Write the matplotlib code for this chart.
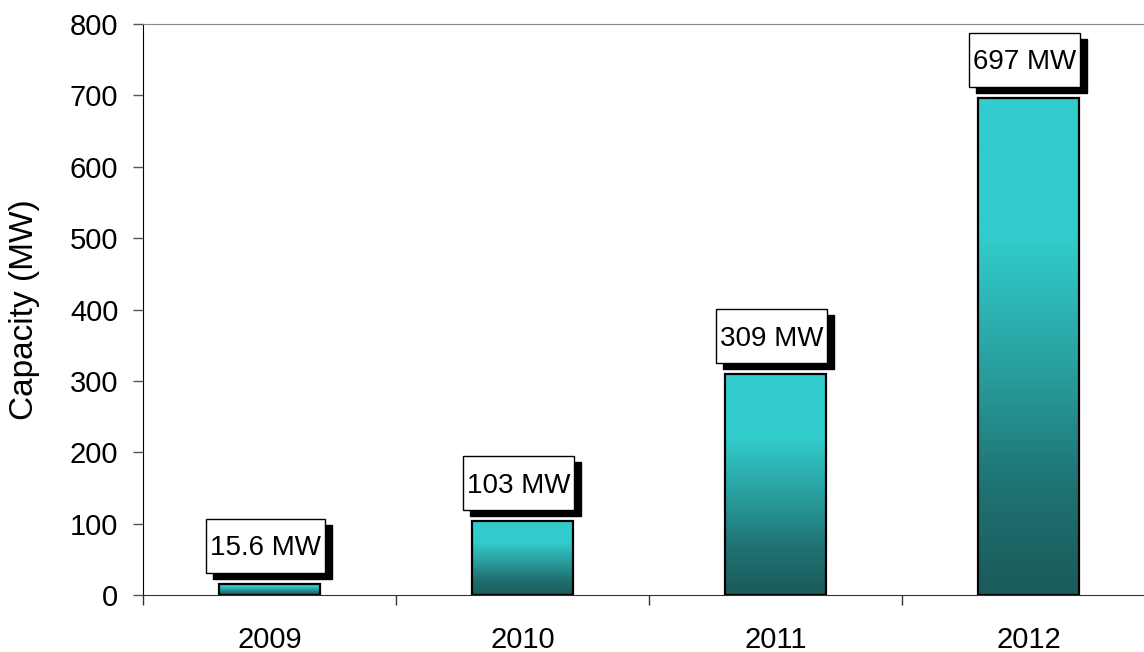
import numpy as np
import matplotlib
matplotlib.use("Agg")
import matplotlib.pyplot as plt
from matplotlib.colors import LinearSegmentedColormap
from matplotlib.patches import Rectangle
from matplotlib.transforms import IdentityTransform

plt.rcParams['font.family'] = ['Liberation Sans', 'DejaVu Sans']

years = ['2009', '2010', '2011', '2012']
capacity = [15.6, 103, 309, 697]
labels = ['15.6 MW', '103 MW', '309 MW', '697 MW']

# dark teal at the bottom, turquoise at the top
teal = LinearSegmentedColormap.from_list(
    'teal', [(0.0, '#1b5a5a'), (0.22, '#1f7373'), (0.45, '#2a9e9e'),
             (0.72, '#33cccc'), (1.0, '#33cccc')])

fig = plt.figure(figsize=(11.44, 6.52), dpi=100)
ax = fig.add_axes([0.125, 0.0874, 0.8846, 0.8758])

bar_w = 0.40
grad = np.linspace(0, 1, 256).reshape(-1, 1)
x = np.arange(len(years))
for i, v in enumerate(capacity):
    ax.imshow(grad, extent=[x[i] - bar_w / 2, x[i] + bar_w / 2, 0, v],
              aspect='auto', cmap=teal, origin='lower', zorder=2)
ax.bar(x, capacity, width=bar_w, fill=False, edgecolor='black',
       linewidth=1.6, zorder=3)

ax.set_xlim(-0.5, len(years) - 0.5)
ax.set_ylim(0, 800)
ax.set_yticks(range(0, 801, 100))
ax.set_xticks(x)
ax.set_xticklabels(years)
ax.set_xticks(np.arange(-0.5, len(years)), minor=True)

ax.tick_params(axis='y', labelsize=21, length=7.2, width=1, color='#555555',
               pad=10.5, direction='out')
ax.tick_params(axis='x', which='major', labelsize=21, length=0, pad=22)
ax.tick_params(axis='x', which='minor', length=7.2, width=1, color='#333333',
               direction='out')

ax.spines['right'].set_visible(False)
ax.spines['top'].set_color('#888888')
ax.spines['left'].set_color('black')
ax.spines['bottom'].set_color('#333333')

ax.set_ylabel('Capacity (MW)', fontsize=24)
ax.yaxis.set_label_coords(-0.1015, 0.5)

# value labels in white boxes with a black drop shadow
gap_px = 11
box_h = 54
cap_h = 19
texts = []
for i, v in enumerate(capacity):
    t = ax.annotate(labels[i], xy=(x[i], v), xytext=(-4, gap_px + box_h / 2 - cap_h / 2),
                    textcoords='offset pixels', ha='center', va='baseline',
                    fontsize=20, zorder=10, annotation_clip=False)
    texts.append(t)

fig.canvas.draw()
for i, t in enumerate(texts):
    bb = t.get_window_extent()
    px, py = ax.transData.transform((x[i], capacity[i]))
    y0 = py + gap_px
    x0 = bb.x0 - 4
    w = bb.width + 8
    shadow = Rectangle((x0 + 7, y0 - 6), w, box_h, transform=IdentityTransform(),
                       facecolor='black', edgecolor='black', zorder=6, clip_on=False)
    box = Rectangle((x0, y0), w, box_h, transform=IdentityTransform(),
                    facecolor='white', edgecolor='black', linewidth=1, zorder=7,
                    clip_on=False)
    ax.add_artist(shadow)
    ax.add_artist(box)

fig.savefig('out.png', dpi=100)
